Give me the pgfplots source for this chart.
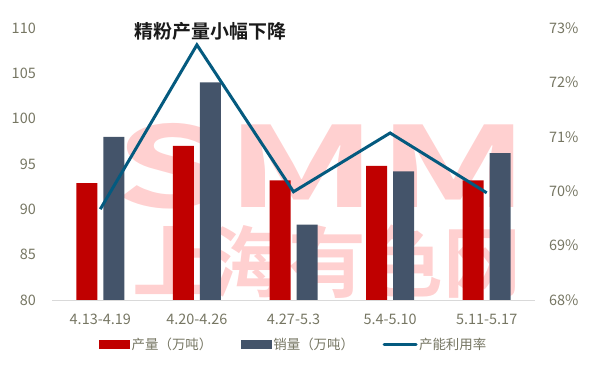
\documentclass[border=0pt]{standalone}
\usepackage{pgfplots}
\pgfplotsset{compat=1.18}
\usepackage{fontspec}
\setmainfont{Noto Sans CJK SC}[BoldFont={Noto Sans CJK SC Bold}]
\definecolor{cred}{HTML}{C00000}
\definecolor{cblue}{HTML}{44546A}
\definecolor{cline}{HTML}{045A7F}
\definecolor{ctick}{HTML}{767663}
\definecolor{cwm}{HTML}{FFD0D0}
\definecolor{caxis}{HTML}{D9D9D9}
\definecolor{ctitle}{HTML}{1A1A1A}
\pgfplotsset{
  barleg/.style={legend image code/.code={\fill[##1] (0bp,-4.5bp) rectangle (31bp,4.5bp);}},
  lineleg/.style={legend image code/.code={\draw[##1, line cap=round] (0bp,0bp) -- (32bp,0bp);}},
  common/.style={at={(52bp,68bp)}, anchor=south west, scale only axis,
    width=483bp, height=272bp, xmin=-0.5, xmax=4.5,
    axis x line*=bottom, major tick length=0pt,
    /pgf/number format/assume math mode=true,
    y axis line style={draw=none},
    ticklabel style={text=ctick, font=\fontsize{14.5}{15}\selectfont, inner sep=0pt}},
}
\begin{document}
\begin{tikzpicture}
\path[use as bounding box] (0bp,0bp) rectangle (596bp,368bp);
\node[text=cwm, font=\fontsize{112}{112}\selectfont\bfseries, xscale=1.6] at (322bp,202bp) {SMM};
\node[text=cwm, font=\fontsize{78}{78}\selectfont\bfseries] at (327bp,106bp) {上海有色网};
\begin{axis}[common,
  ymin=80, ymax=110,
  ytick={80,85,...,110}, xtick={0,1,2,3,4},
  xticklabels={4.13-4.19,4.20-4.26,4.27-5.3,5.4-5.10,5.11-5.17},
  axis y line*=left,
  x axis line style={draw=caxis, line width=0.8bp, -},
  yticklabel style={anchor=east, xshift=-16bp},
  xticklabel style={anchor=north, yshift=-14bp},
]
\addplot[ybar, bar width=21bp, bar shift=-13.5bp, fill=cred, draw=none]
  coordinates {(0,92.9)(1,97.0)(2,93.2)(3,94.8)(4,93.2)};
\addplot[ybar, bar width=21bp, bar shift=13.5bp, fill=cblue, draw=none]
  coordinates {(0,98.0)(1,104.0)(2,88.3)(3,94.2)(4,96.2)};
\end{axis}
\begin{axis}[common,
  ymin=68, ymax=73,
  ytick={68,69,...,73}, xtick=\empty,
  axis y line*=right,
  x axis line style={draw=none},
  yticklabel={\pgfmathprintnumber{\tick}\%},
  yticklabel style={anchor=west, xshift=14bp},
  legend columns=3,
  legend style={at={(0.5,-0.165)}, anchor=center, draw=none, fill=none,
    font=\fontsize{13.5}{14}\selectfont, text=ctick,
    nodes={inner sep=1.5bp},
    /tikz/every even column/.append style={column sep=27bp}},
]
\addlegendimage{fill=cred, draw=none, barleg}
\addlegendentry{产量（万吨）}
\addlegendimage{fill=cblue, draw=none, barleg}
\addlegendentry{销量（万吨）}
\addplot[cline, line width=3bp, line join=miter, lineleg]
  coordinates {(0,69.67)(1,72.69)(2,69.99)(3,71.07)(4,69.97)};
\addlegendentry{产能利用率}
\end{axis}
\node[text=ctitle, font=\fontsize{19}{19}\selectfont\bfseries] at (210.5bp,337bp) {精粉产量小幅下降};
\end{tikzpicture}
\end{document}
